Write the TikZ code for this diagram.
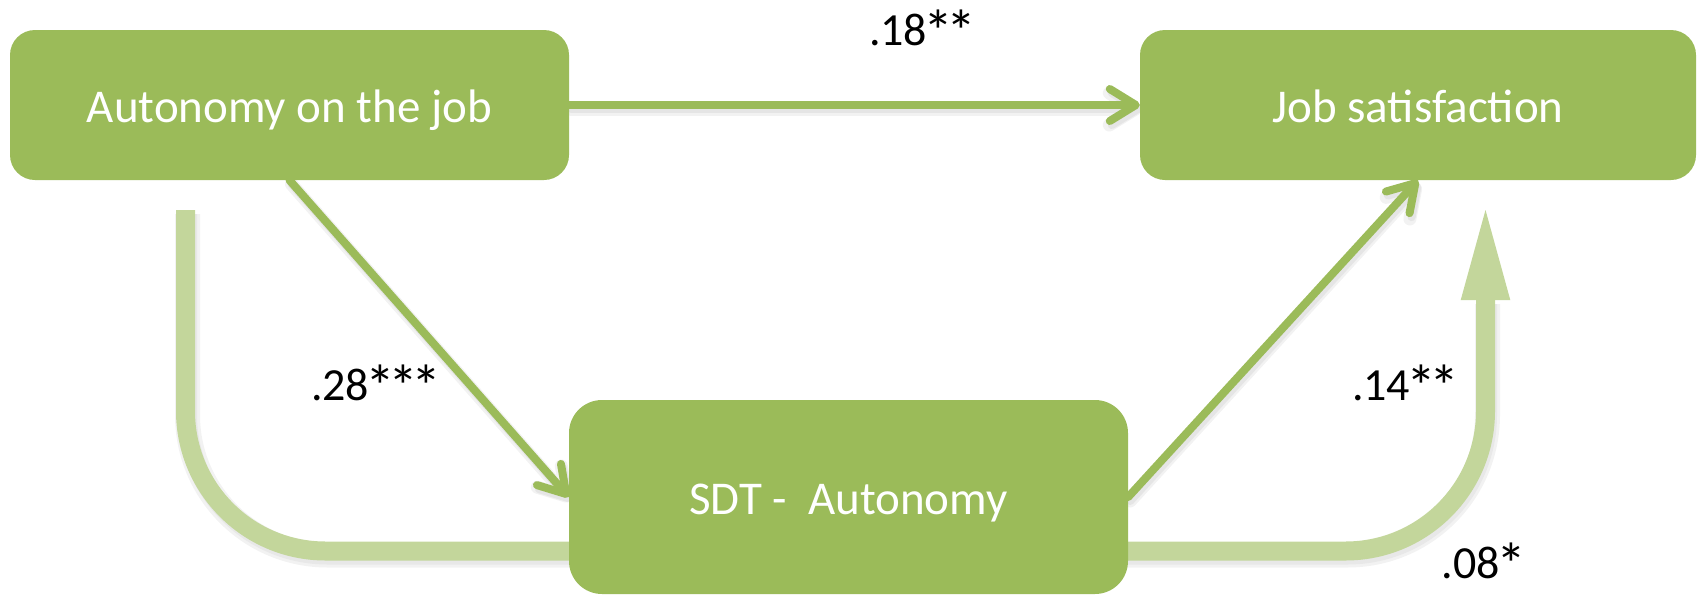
\documentclass[tikz,border=0pt]{standalone}
\usepackage{fontspec}
\setmainfont{Carlito}
\usetikzlibrary{arrows.meta}
\definecolor{olive}{HTML}{9BBB59}
\definecolor{paleolive}{HTML}{C3D69B}
\pgfdeclarelayer{bg}
\pgfsetlayers{bg,main}
% significance star, set larger, lower and tighter than the font's own asterisk
\newcommand{\sig}{\kern-3.5pt\raisebox{-7pt}[0pt][0pt]{\fontsize{60}{60}\selectfont *}\kern-3.5pt}
\tikzset{
  box/.style={fill=olive, rounded corners=25pt, text=white, inner sep=0pt,
    font=\fontsize{47}{56}\selectfont, text height=35pt, text depth=0pt},
  coef/.style={anchor=base, inner sep=0pt, font=\fontsize{46}{55}\selectfont},
  barb/.style={-{Straight Barb[length=26pt, width=32pt, round]}},
  link/.style={barb, draw=olive, line width=8pt, line cap=round},
  linkshadow/.style={barb, draw=black!#1, line cap=round,
    transform canvas={shift={(2pt,-4pt)}}},
  total/.style={draw=paleolive, line width=19pt, rounded corners=140pt,
    -{Triangle[length=99pt, width=43pt]}},
  totalshadow/.style={draw=black!#1, rounded corners=140pt,
    transform canvas={shift={(2pt,-4pt)}}},
}
\begin{document}
\begin{tikzpicture}[x=1pt, y=-1pt]
  \useasboundingbox (0,0) rectangle (1698,595);

  % the three variables
  \node[box, minimum width=559pt, minimum height=150pt] (auto) at (289.5,105) {Autonomy on the job};
  \node[box, minimum width=556pt, minimum height=150pt] (sat) at (1418,105) {Job satisfaction};
  \node[box, rounded corners=33pt, minimum width=559pt, minimum height=194pt] (sdt) at (848.5,497) {SDT -\ \ Autonomy};

  % total effect path, running behind the mediator
  \coordinate (tstart) at (185.5,210);
  \coordinate (tdown) at (185.5,551);
  \coordinate (tright) at (1485.5,551);
  \coordinate (tend) at (1485.5,201);
  \coordinate (tbase) at (1485.5,300);
  \begin{pgfonlayer}{bg}
    % soft shadows
    \draw[totalshadow=5, line width=25pt] (tstart) -- (tdown) -- (tright) -- (tbase);
    \draw[totalshadow=9, line width=19pt] (tstart) -- (tdown) -- (tright) -- (tbase);
    \foreach \a/\b in {auto.east/sat.west, auto.south/sdt.west, sdt.east/sat.south} {
      \draw[linkshadow=5, line width=13pt] (\a) -- (\b);
      \draw[linkshadow=10, line width=8pt] (\a) -- (\b);
    }
    \draw[total] (tstart) -- (tdown) -- (tright) -- (tend);
  \end{pgfonlayer}

  % direct and indirect paths
  \draw[link] (auto.east) -- (sat.west);
  \draw[link] (auto.south) -- (sdt.west);
  \draw[link] (sdt.east) -- (sat.south);

  % path coefficients
  \node[coef] (c1) at (921,45) {.18\sig\sig};
  \node[coef] (c2) at (374.5,400) {.28\sig\sig\sig};
  \node[coef] (c3) at (1404,400) {.14\sig\sig};
  \node[coef] (c4) at (1482,578) {.08\sig};
\end{tikzpicture}
\end{document}
